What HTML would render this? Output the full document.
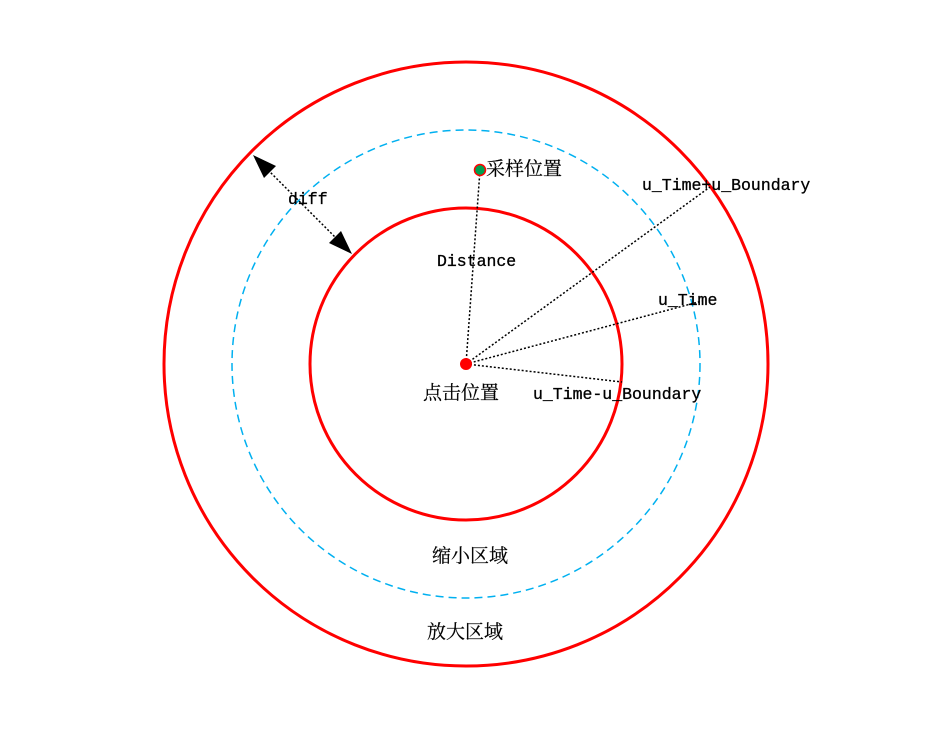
<!DOCTYPE html>
<html><head><meta charset="utf-8"><style>
html,body{margin:0;padding:0;background:#fff;}
svg text{font-family:"Liberation Mono","Noto Serif CJK SC",monospace;font-size:16.5px;fill:#000;stroke:#000;stroke-width:0.3px;}
svg text.cjk{font-family:"Noto Serif CJK SC","Noto Sans CJK SC",serif;font-size:19px;stroke-width:0.2px;}
</style></head><body>
<svg width="950" height="726" viewBox="0 0 950 726" xmlns="http://www.w3.org/2000/svg">
<circle cx="466" cy="364" r="302" fill="none" stroke="#f00" stroke-width="3"/>
<circle cx="466" cy="364" r="234" fill="none" stroke="#00b0f0" stroke-width="1.5" stroke-dasharray="8,5"/>
<circle cx="466" cy="364" r="156" fill="none" stroke="#f00" stroke-width="3"/>
<g stroke="#000" stroke-width="1.5" stroke-dasharray="2,2" fill="none">
<line x1="466" y1="364" x2="480" y2="170"/>
<line x1="466" y1="364" x2="710" y2="187"/>
<line x1="466" y1="364" x2="702" y2="301"/>
<line x1="466" y1="364" x2="622" y2="382"/>
<line x1="268" y1="170" x2="337" y2="239"/>
</g>
<path d="M253,155 L276,166 L264,178 z" fill="#000"/>
<path d="M352,254 L329,243 L341,231 z" fill="#000"/>
<circle cx="466" cy="364" r="6" fill="#f00"/>
<circle cx="480" cy="170" r="5.5" fill="#00a050" stroke="#f00" stroke-width="1.5"/>
<text x="486" y="175" class="cjk">采样位置</text>
<text x="642" y="190">u_Time+u_Boundary</text>
<text x="437" y="266">Distance</text>
<text x="658" y="305">u_Time</text>
<text x="423" y="399" class="cjk">点击位置</text>
<text x="533" y="399">u_Time-u_Boundary</text>
<text x="288" y="204">diff</text>
<text x="432" y="562" class="cjk">缩小区域</text>
<text x="427" y="638" class="cjk">放大区域</text>
</svg>
</body></html>
